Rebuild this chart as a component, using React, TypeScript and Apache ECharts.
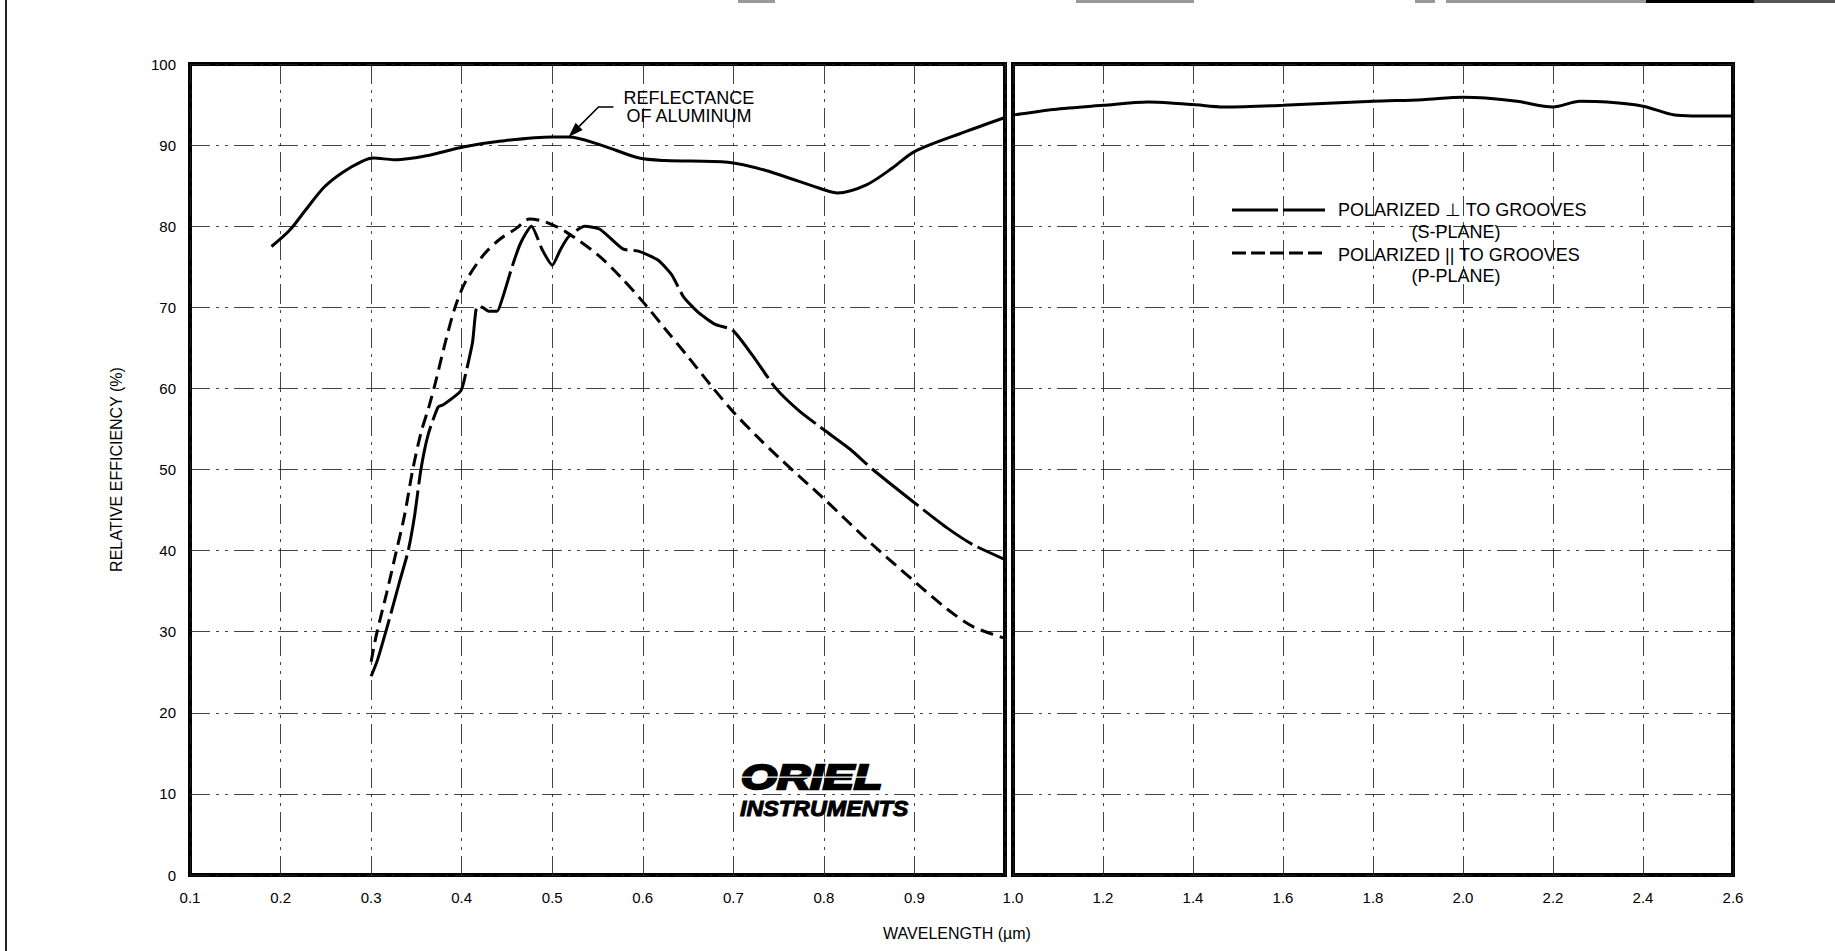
import React, { useEffect, useRef } from 'react';
import * as echarts from 'echarts';

// ---- Data ----
// Reflectance of aluminum, short-wavelength panel (µm, %)
const alumWaveShort = [0.19, 0.21, 0.227, 0.248, 0.268, 0.29, 0.303, 0.325, 0.352, 0.37, 0.403, 0.444, 0.5, 0.518, 0.554, 0.596, 0.625, 0.694, 0.735, 0.8, 0.815, 0.847, 0.876, 0.9, 0.955, 1.0];
const alumReflShort = [77.5, 79.5, 81.9, 84.8, 86.6, 88.0, 88.4, 88.2, 88.5, 88.9, 89.8, 90.5, 91.0, 91.0, 90.0, 88.4, 88.1, 87.9, 86.9, 84.5, 84.1, 85.1, 87.2, 89.2, 91.6, 93.4];
// Reflectance of aluminum, long-wavelength panel
const alumWaveLong = [1.0, 1.09, 1.2, 1.3, 1.35, 1.4, 1.47, 1.6, 1.8, 1.91, 2.0, 2.05, 2.12, 2.2, 2.26, 2.32, 2.4, 2.47, 2.51, 2.6];
const alumReflLong = [93.7, 94.4, 94.9, 95.3, 95.2, 95.0, 94.7, 94.9, 95.4, 95.6, 95.9, 95.8, 95.4, 94.7, 95.4, 95.3, 94.8, 93.7, 93.6, 93.6];
// Polarized perpendicular to grooves (S-plane)
const sWave = [0.3, 0.307, 0.32, 0.331, 0.341, 0.348, 0.355, 0.363, 0.374, 0.38, 0.399, 0.404, 0.412, 0.417, 0.423, 0.43, 0.439, 0.445, 0.456, 0.465, 0.477, 0.489, 0.5, 0.509, 0.518, 0.536, 0.553, 0.578, 0.596, 0.617, 0.632, 0.645, 0.662, 0.68, 0.699, 0.721, 0.747, 0.772, 0.8, 0.829, 0.854, 0.9, 0.936, 0.965, 1.0];
const sEff = [24.5, 26.5, 31.5, 36, 40, 44.3, 50, 54.3, 57.7, 58, 59.7, 61.6, 65.7, 70.1, 70, 69.5, 69.5, 71.1, 75.1, 77.9, 80, 77.1, 75.2, 77.1, 78.7, 80, 79.6, 77.2, 76.9, 75.8, 74, 71.3, 69.3, 67.9, 67.2, 64.1, 60, 57.3, 54.9, 52.5, 50, 45.9, 42.8, 40.7, 38.9];
// Polarized parallel to grooves (P-plane)
const pWave = [0.3, 0.306, 0.317, 0.328, 0.337, 0.346, 0.355, 0.364, 0.371, 0.382, 0.393, 0.404, 0.423, 0.441, 0.46, 0.475, 0.493, 0.515, 0.55, 0.575, 0.6, 0.625, 0.65, 0.675, 0.7, 0.725, 0.75, 0.8, 0.85, 0.9, 0.936, 0.965, 1.0];
const pEff = [26.3, 29.7, 34.7, 40, 44.4, 50, 54.5, 57.8, 60.7, 65.7, 70.1, 73.1, 76.3, 78.3, 79.7, 80.9, 80.5, 79.3, 76.5, 73.8, 70.7, 67.3, 63.9, 60.4, 57.1, 54.2, 51.5, 46.4, 41.1, 36.2, 32.8, 30.6, 29.2];

// Texts
const yAxisTitle = 'RELATIVE EFFICIENCY (%)';
const xAxisTitle = 'WAVELENGTH (\u00b5m)';
const annotationLines = ['REFLECTANCE', 'OF ALUMINUM'];
const legendS = ['POLARIZED \u22A5 TO GROOVES', '(S-PLANE)'];
const legendP = ['POLARIZED || TO GROOVES', '(P-PLANE)'];
const logoTop = 'ORIEL';
const logoBottom = 'INSTRUMENTS';

const FONT = '"Liberation Sans", Arial, Helvetica, sans-serif';
const zip = (xs: number[], ys: number[]) => xs.map((x, i) => [x, ys[i]]);

const gridLine = { show: true, lineStyle: { color: '#222', width: 1, type: [20, 6, 3, 6, 3, 6] as any, opacity: 0.85 } };
const tickLabel = { color: '#000', fontSize: 15, fontFamily: FONT };

export default function App() {
  const ref = useRef<HTMLDivElement>(null);
  useEffect(() => {
    if (!ref.current) return;
    const chart = echarts.init(ref.current, null, { renderer: 'svg' });
    const lineBase = { type: 'line', showSymbol: false, symbol: 'none', silent: true };
    const option: any = {
      animation: false,
      backgroundColor: '#fff',
      grid: [
        { left: 190, top: 64, width: 815, height: 811, show: true, borderColor: '#000', borderWidth: 4, backgroundColor: 'transparent' },
        { left: 1013, top: 64, width: 720, height: 811, show: true, borderColor: '#000', borderWidth: 4, backgroundColor: 'transparent' },
      ],
      xAxis: [
        {
          type: 'value', gridIndex: 0, min: 0.1, max: 1.0, interval: 0.1,
          axisLine: { show: false }, axisTick: { show: false },
          axisLabel: { ...tickLabel, margin: 15, showMaxLabel: false, formatter: (v: number) => v.toFixed(1) },
          splitLine: gridLine,
        },
        {
          type: 'value', gridIndex: 1, min: 1.0, max: 2.6, interval: 0.2,
          axisLine: { show: false }, axisTick: { show: false },
          axisLabel: { ...tickLabel, margin: 15, formatter: (v: number) => v.toFixed(1) },
          splitLine: gridLine,
        },
      ],
      yAxis: [
        {
          type: 'value', gridIndex: 0, min: 0, max: 100, interval: 10,
          axisLine: { show: false }, axisTick: { show: false },
          axisLabel: { ...tickLabel, margin: 14 },
          splitLine: gridLine,
          name: yAxisTitle, nameLocation: 'middle', nameGap: 66, nameRotate: 90,
          nameTextStyle: { color: '#000', fontSize: 16, fontFamily: FONT },
        },
        {
          type: 'value', gridIndex: 1, min: 0, max: 100, interval: 10,
          axisLine: { show: false }, axisTick: { show: false },
          axisLabel: { show: false },
          splitLine: gridLine,
        },
      ],
      series: [
        { ...lineBase, name: 'Aluminum', xAxisIndex: 0, yAxisIndex: 0, smooth: 0.3, data: zip(alumWaveShort, alumReflShort), lineStyle: { color: '#000', width: 3 } },
        { ...lineBase, name: 'Aluminum IR', xAxisIndex: 1, yAxisIndex: 1, smooth: 0.3, data: zip(alumWaveLong, alumReflLong), lineStyle: { color: '#000', width: 3 } },
        { ...lineBase, name: 'S-plane', xAxisIndex: 0, yAxisIndex: 0, smooth: 0.2, data: zip(sWave, sEff), lineStyle: { color: '#000', width: 3, type: [60, 6] } },
        { ...lineBase, name: 'P-plane', xAxisIndex: 0, yAxisIndex: 0, smooth: 0.3, data: zip(pWave, pEff), lineStyle: { color: '#000', width: 3, type: [13, 7] } },
      ],
    };
    chart.setOption(option);

    const tip = chart.convertToPixel({ xAxisIndex: 0, yAxisIndex: 0 } as any, [0.518, 91.0]) as number[];
    const elbow = [tip[0] + 30, tip[1] - 30];
    const tail = [elbow[0] + 15, elbow[1]];
    const d = Math.SQRT1_2;
    const dir = [-d, d];
    const perp = [d, d];
    const aLen = 15, aHalf = 5;
    const base = [tip[0] - dir[0] * aLen, tip[1] - dir[1] * aLen];
    const txtStyle = (size: number, extra: any = {}) => ({ fill: '#000', fontSize: size, fontFamily: FONT, ...extra });

    const graphics: any[] = [
      // page edge remnants
      { type: 'line', shape: { x1: 6, y1: 0, x2: 6, y2: 951 }, style: { stroke: '#222', lineWidth: 2 } },
      { type: 'rect', shape: { x: 738, y: 0, width: 37, height: 3 }, style: { fill: '#999' } },
      { type: 'rect', shape: { x: 1076, y: 0, width: 118, height: 3 }, style: { fill: '#999' } },
      { type: 'rect', shape: { x: 1415, y: 0, width: 20, height: 3 }, style: { fill: '#999' } },
      { type: 'rect', shape: { x: 1446, y: 0, width: 200, height: 3 }, style: { fill: '#999' } },
      { type: 'rect', shape: { x: 1646, y: 0, width: 108, height: 3 }, style: { fill: '#000' } },
      { type: 'rect', shape: { x: 1754, y: 0, width: 81, height: 3 }, style: { fill: '#555' } },
      // x axis title
      { type: 'text', x: 957, y: 933, style: txtStyle(16, { text: xAxisTitle, align: 'center', verticalAlign: 'middle' }) },
      // annotation
      { type: 'polyline', shape: { points: [tail, elbow, base] }, style: { stroke: '#000', lineWidth: 1.6, fill: null } },
      {
        type: 'polygon',
        shape: { points: [tip, [base[0] + perp[0] * aHalf, base[1] + perp[1] * aHalf], [base[0] - perp[0] * aHalf, base[1] - perp[1] * aHalf]] },
        style: { fill: '#000' },
      },
      { type: 'text', x: tip[0] + 55, y: tip[1] - 39, style: txtStyle(18, { text: annotationLines[0], verticalAlign: 'middle' }) },
      { type: 'text', x: tip[0] + 58, y: tip[1] - 21, style: txtStyle(18, { text: annotationLines[1], verticalAlign: 'middle' }) },
      // legend
      { type: 'line', shape: { x1: 1232, y1: 210, x2: 1325, y2: 210 }, style: { stroke: '#000', lineWidth: 3, lineDash: [46, 5] } },
      { type: 'line', shape: { x1: 1232, y1: 253, x2: 1325, y2: 253 }, style: { stroke: '#000', lineWidth: 3, lineDash: [14, 5] } },
      { type: 'text', x: 1338, y: 210, style: txtStyle(18, { text: legendS[0], verticalAlign: 'middle' }) },
      { type: 'text', x: 1456, y: 232, style: txtStyle(18, { text: legendS[1], align: 'center', verticalAlign: 'middle' }) },
      { type: 'text', x: 1338, y: 255, style: txtStyle(18, { text: legendP[0], verticalAlign: 'middle' }) },
      { type: 'text', x: 1456, y: 276, style: txtStyle(18, { text: legendP[1], align: 'center', verticalAlign: 'middle' }) },
      // logo
      { type: 'text', x: 741, y: 777, scaleX: 1.32, style: txtStyle(35, { text: logoTop, fontWeight: 900, fontStyle: 'italic', verticalAlign: 'middle', stroke: '#000', lineWidth: 2.4 }) },
      { type: 'rect', shape: { x: 736, y: 776.5, width: 150, height: 1.2 }, style: { fill: '#fff' } },
      { type: 'text', x: 740, y: 808, scaleX: 1.06, style: txtStyle(22, { text: logoBottom, fontWeight: 900, fontStyle: 'italic', verticalAlign: 'middle', stroke: '#000', lineWidth: 1 }) },
    ];
    chart.setOption({ graphic: graphics });

    return () => chart.dispose();
  }, []);
  return <div ref={ref} style={{ position: 'fixed', left: 0, top: 0, width: 1835, height: 951, background: '#fff' }} />;
}
